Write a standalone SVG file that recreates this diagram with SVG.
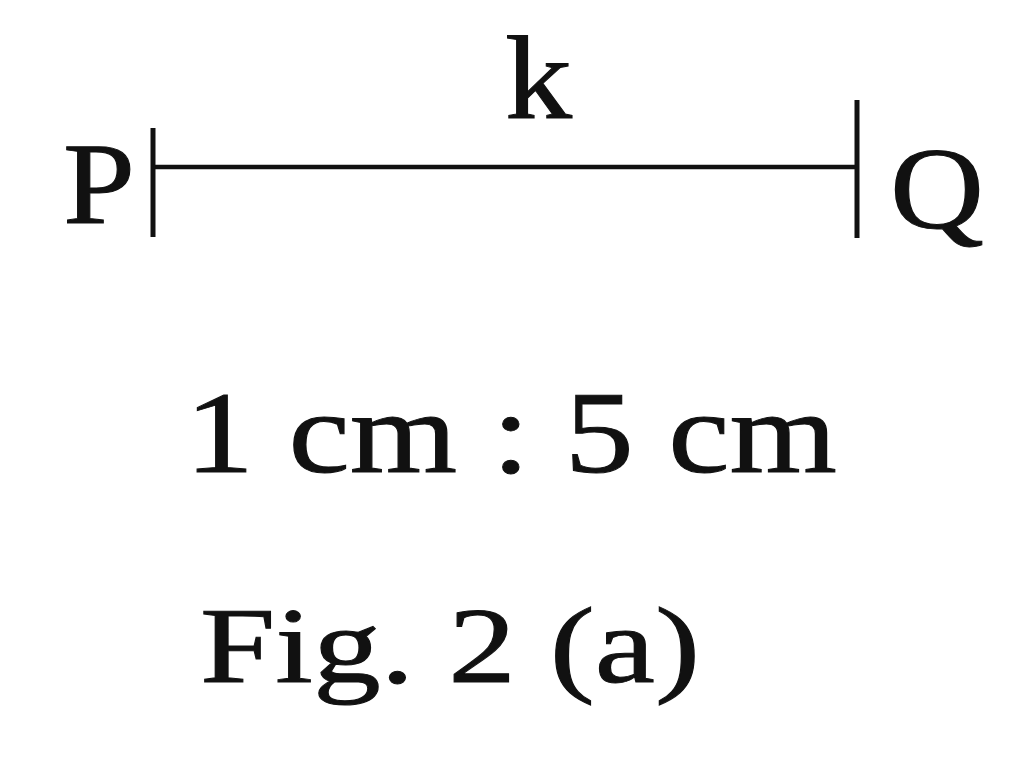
<svg xmlns="http://www.w3.org/2000/svg" width="1024" height="772" viewBox="0 0 1024 772">
<style>
.t{font-family:"Liberation Serif","Times New Roman",serif;fill:#111;stroke:#111;stroke-width:1}
.ln{stroke:#111;fill:none}
</style>
<rect width="1024" height="772" fill="#fff"/>
<g id="segment">
<line class="ln" x1="153" y1="167" x2="857" y2="167" stroke-width="4.5"/>
<line class="ln" x1="153" y1="128" x2="153" y2="237" stroke-width="5"/>
<line class="ln" x1="857" y1="100" x2="857" y2="238" stroke-width="5"/>
</g>
<g id="labels">
<text class="t" x="63" y="223" font-size="116" textLength="72" lengthAdjust="spacingAndGlyphs">P</text>
<text class="t" x="890" y="228" font-size="116" textLength="94" lengthAdjust="spacingAndGlyphs">Q</text>
<text class="t" x="505" y="118" font-size="118" textLength="67" lengthAdjust="spacingAndGlyphs">k</text>
<text class="t" x="185" y="472" font-size="116" textLength="652" lengthAdjust="spacingAndGlyphs">1 cm : 5 cm</text>
<text class="t" x="200" y="682" font-size="109" textLength="500" lengthAdjust="spacingAndGlyphs">Fig. 2 (a)</text>
</g>
</svg>
